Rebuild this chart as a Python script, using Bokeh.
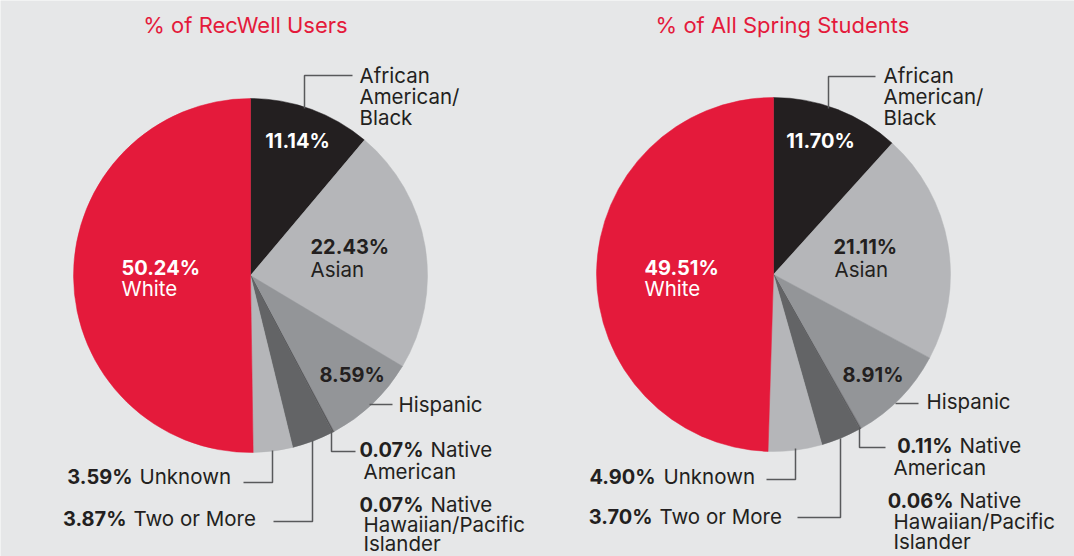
import math
from bokeh.plotting import figure
from bokeh.models import Range1d, ColumnDataSource
from bokeh.core.properties import value
from bokeh.embed import file_html
from bokeh.resources import INLINE

# ---------------- data ----------------
categories = ["African American/Black", "Asian", "Hispanic", "Native American",
              "Native Hawaiian/Pacific Islander", "Two or More", "Unknown", "White"]
recwell_pct = [11.14, 22.43, 8.59, 0.07, 0.07, 3.87, 3.59, 50.24]
spring_pct = [11.70, 21.11, 8.91, 0.11, 0.06, 3.70, 4.90, 49.51]
titles = ["% of RecWell Users", "% of All Spring Students"]

# ---------------- style ----------------
W, H = 1074, 556
BG = "#e6e7e8"
RED = "#e41a3b"
TXT = "#231f20"
LEAD = "#58595b"
slice_colors = ["#231f20", "#b5b6b9", "#939598", "#7a7b7e", "#4d4d4f",
                "#636466", "#b5b6b9", RED]
FONT = "Inter"
TSHIFT = 8  # baseline correction for text glyphs

def Y(y):
    return H - y

def TY(y):
    return H - (y - TSHIFT)

p = figure(width=W, height=H, x_range=Range1d(0, W), y_range=Range1d(0, H),
           output_backend="svg", toolbar_location=None, min_border=0)
p.axis.visible = False
p.grid.visible = False
p.outline_line_color = None
p.background_fill_color = BG
p.border_fill_color = BG

R = 177
centers = [(250, 275), (773, 274)]

for (cx, cy), vals in zip(centers, [recwell_pct, spring_pct]):
    total = sum(vals)
    starts, ends = [], []
    c = 0.0
    for v in vals:
        starts.append(math.pi / 2 - 2 * math.pi * c / total)
        c += v
        ends.append(math.pi / 2 - 2 * math.pi * c / total)
    src = ColumnDataSource(dict(x=[cx] * len(vals), y=[Y(cy)] * len(vals),
                                s=starts, e=ends, color=slice_colors))
    p.wedge(x="x", y="y", radius=R, start_angle="s", end_angle="e",
            direction="clock", fill_color="color", line_color="color",
            line_width=0.5, source=src)

# leader lines (pixel positions)
leaders = [
    [(304, 108), (304, 75), (352, 75)],
    [(369, 404), (392, 404)],
    [(331, 430), (331, 451), (355, 451)],
    [(312, 440), (312, 521), (273, 521)],
    [(272, 450), (272, 482), (243, 482)],
    [(828, 108), (828, 76), (875, 76)],
    [(895, 403), (918, 403)],
    [(859, 427), (859, 447), (885, 447)],
    [(840, 438), (840, 517), (797, 517)],
    [(795, 448), (795, 479), (766, 479)],
]
p.multi_line(xs=[[pt[0] for pt in l] for l in leaders],
             ys=[[Y(pt[1]) for pt in l] for l in leaders],
             line_color=LEAD, line_width=1.5)

def pct(v):
    return f"{v:.2f}%"

labels = []  # (x, baseline_y, text, bold, color, align)
def add(x, y, t, bold=False, color=TXT, align="left"):
    labels.append((x, y, t, bold, color, align))

# left pie
r = recwell_pct
add(359, 83, "African"); add(359, 104, "American/"); add(359, 125, "Black")
add(297, 148, pct(r[0]), True, "white", "center")
add(310, 254, pct(r[1]), True); add(310, 277, "Asian")
add(319, 382, pct(r[2]), True)
add(398, 412, "Hispanic")
add(423, 457, pct(r[3]), True, TXT, "right"); add(430, 457, "Native"); add(363, 479, "American")
add(423, 512, pct(r[4]), True, TXT, "right"); add(430, 512, "Native")
add(363, 532, "Hawaiian/Pacific"); add(363, 551, "Islander")
add(126, 526, pct(r[5]), True, TXT, "right"); add(133, 526, "Two or More")
add(132, 484, pct(r[6]), True, TXT, "right"); add(139, 484, "Unknown")
add(121, 275, pct(r[7]), True, "white"); add(121, 296, "White", False, "white")
# right pie
s = spring_pct
add(883, 83, "African"); add(883, 104, "American/"); add(883, 125, "Black")
add(820, 148, pct(s[0]), True, "white", "center")
add(833, 254, pct(s[1]), True); add(834, 277, "Asian")
add(842, 382, pct(s[2]), True)
add(926, 409, "Hispanic")
add(952, 453, pct(s[3]), True, TXT, "right"); add(959, 453, "Native"); add(893, 475, "American")
add(953, 508, pct(s[4]), True, TXT, "right"); add(959, 508, "Native")
add(893, 529, "Hawaiian/Pacific"); add(893, 549, "Islander")
add(652, 524, pct(s[5]), True, TXT, "right"); add(659, 524, "Two or More")
add(655, 484, pct(s[6]), True, TXT, "right"); add(663, 484, "Unknown")
add(644, 275, pct(s[7]), True, "white"); add(644, 296, "White", False, "white")

for bold in (False, True):
    sub = [l for l in labels if l[3] == bold]
    src = ColumnDataSource(dict(x=[l[0] for l in sub], y=[TY(l[1]) for l in sub],
                                t=[l[2] for l in sub], c=[l[4] for l in sub],
                                a=[l[5] for l in sub]))
    p.text(x="x", y="y", text="t", text_color="c", text_align="a",
           text_baseline="alphabetic", text_font=value(FONT),
           text_font_size="20.5px" if not bold else "20px",
           text_font_style="bold" if bold else "normal",
           source=src)

# titles
p.text(x=[245, 782], y=[TY(32), TY(32)], text=titles, text_color=RED,
       text_align="center", text_baseline="alphabetic", text_font=value(FONT),
       text_font_size="22px")

open("out.html", "w").write(file_html(p, INLINE))
